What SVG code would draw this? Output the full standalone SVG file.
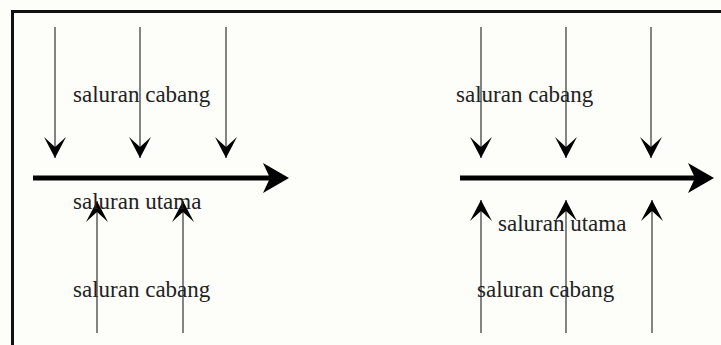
<svg xmlns="http://www.w3.org/2000/svg" width="721" height="345" viewBox="0 0 721 345">
  <style>
    .lbl { font-family: "Liberation Serif", "Times New Roman", serif; font-size: 23px; fill: #222; }
    .br { stroke: #333; stroke-width: 1.2; fill: none; }
    .main { stroke: #000; stroke-width: 5; fill: none; }
    .frame { stroke: #111; stroke-width: 3; fill: none; }
  </style>
  <defs>
    <marker id="ah" viewBox="-22 -12 23 24" refX="0" refY="0" markerWidth="23" markerHeight="24" markerUnits="userSpaceOnUse" orient="auto">
      <path d="M0,0 L-21,-11 L-11,0 L-21,11 Z" fill="#000"/>
    </marker>
    <marker id="ahm" viewBox="-45 -16 46 32" refX="-17" refY="0" markerWidth="46" markerHeight="32" markerUnits="userSpaceOnUse" orient="auto">
      <path d="M0,0 L-26,-15 L-19,0 L-26,15 Z" fill="#000"/>
    </marker>
  </defs>
  <rect x="0" y="0" width="721" height="345" fill="#fdfdfa"/>
  <path class="frame" d="M12.5,345 V11.5 H721"/>

  <g id="connectors">
    <!-- left group -->
    <line class="br" x1="55" y1="27" x2="55" y2="158" marker-end="url(#ah)"/>
    <line class="br" x1="140" y1="27" x2="140" y2="158" marker-end="url(#ah)"/>
    <line class="br" x1="226" y1="27" x2="226" y2="158" marker-end="url(#ah)"/>
    <line class="main" x1="33" y1="178" x2="272" y2="178" marker-end="url(#ahm)"/>
    <line class="br" x1="97" y1="333" x2="97" y2="201" marker-end="url(#ah)"/>
    <line class="br" x1="183" y1="333" x2="183" y2="201" marker-end="url(#ah)"/>
    <!-- right group -->
    <line class="br" x1="481" y1="27" x2="481" y2="158" marker-end="url(#ah)"/>
    <line class="br" x1="566" y1="27" x2="566" y2="158" marker-end="url(#ah)"/>
    <line class="br" x1="651" y1="27" x2="651" y2="158" marker-end="url(#ah)"/>
    <line class="main" x1="460" y1="178" x2="697" y2="178" marker-end="url(#ahm)"/>
    <line class="br" x1="481" y1="333" x2="481" y2="200" marker-end="url(#ah)"/>
    <line class="br" x1="566" y1="333" x2="566" y2="200" marker-end="url(#ah)"/>
    <line class="br" x1="652" y1="333" x2="652" y2="200" marker-end="url(#ah)"/>
  </g>

  <g id="label-left-cabang-top"><text class="lbl" x="73" y="102">saluran cabang</text></g>
  <g id="label-left-utama"><text class="lbl" x="73" y="209">saluran utama</text></g>
  <g id="label-left-cabang-bottom"><text class="lbl" x="73" y="297">saluran cabang</text></g>
  <g id="label-right-cabang-top"><text class="lbl" x="456" y="102">saluran cabang</text></g>
  <g id="label-right-utama"><text class="lbl" x="498" y="231">saluran utama</text></g>
  <g id="label-right-cabang-bottom"><text class="lbl" x="477" y="297">saluran cabang</text></g>
</svg>
